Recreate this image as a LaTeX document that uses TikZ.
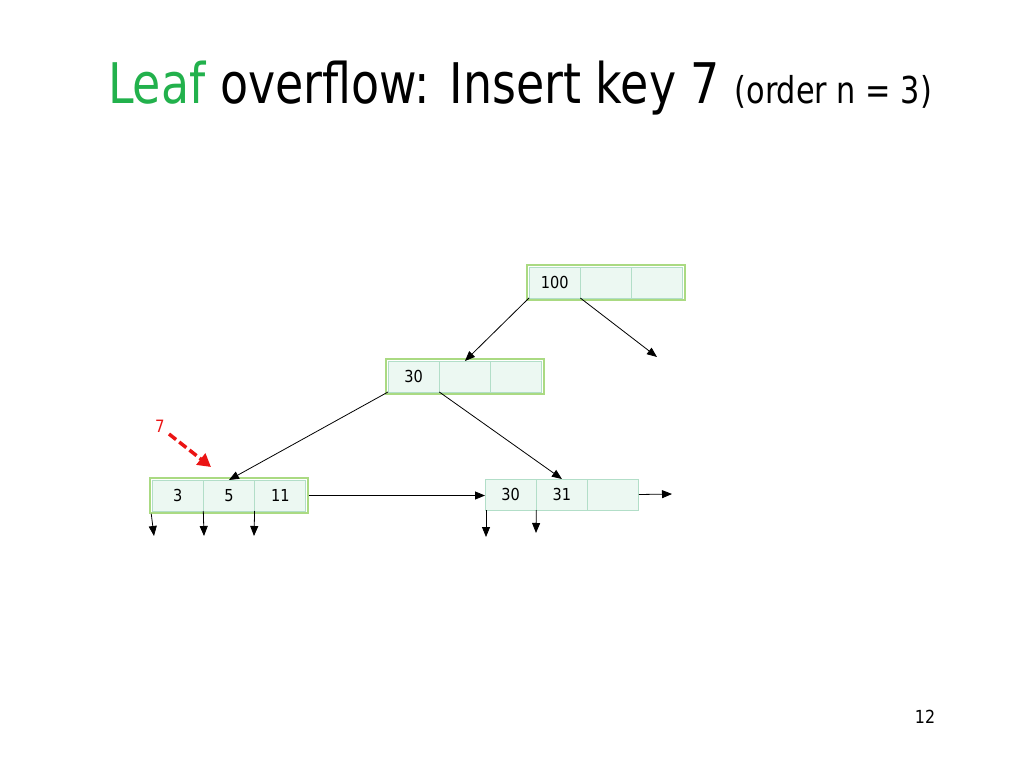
\documentclass[tikz,border=0pt]{standalone}
\usepackage{fontspec}
\setmainfont{DejaVu Sans}
\newfontfamily\titlefont{DejaVu Sans}[FakeStretch=0.82]
\newfontfamily\cellfont{DejaVu Sans}[FakeStretch=0.88]
\usetikzlibrary{arrows.meta,fit}
\definecolor{leafgreen}{RGB}{34,177,76}
\definecolor{boxgreen}{RGB}{170,218,130}
\definecolor{cellline}{RGB}{178,222,200}
\definecolor{cellfill}{RGB}{236,248,242}
\definecolor{keyred}{RGB}{235,20,20}
\tikzset{
  cell/.style={draw=cellline,line width=1pt,fill=cellfill,minimum width=51.3pt,minimum height=31pt,inner sep=0pt,outer sep=0pt,font=\cellfont\fontsize{16.5}{16.5}\selectfont},
  outerbox/.style={draw=boxgreen,line width=1.5pt,inner sep=2pt},
  ptr/.style={-{Triangle[length=10pt,width=8pt]},line width=0.8pt,black},
}
\newcommand{\bnode}[5]{%
  \node[cell,anchor=north west] (#1a) at (#2) {#3};
  \node[cell,anchor=west] (#1b) at (#1a.east) {#4};
  \node[cell,anchor=west] (#1c) at (#1b.east) {#5};
}
\begin{document}
\begin{tikzpicture}[x=1pt,y=-1pt]
\useasboundingbox (0,0) rectangle (1024,768);
% title
\node[anchor=base west,inner sep=0pt,font=\titlefont\fontsize{56}{56}\selectfont] (title) at (108,103)
  {\textcolor{leafgreen}{Leaf} overflow: Insert key 7 {\fontsize{37}{37}\selectfont(order n = 3)}};
% nodes
\bnode{r}{529,267}{100}{}{}
\node[outerbox,fit=(ra)(rc)] (rbox) {};
\bnode{m}{388,361}{30}{}{}
\node[outerbox,fit=(ma)(mc)] (mbox) {};
\bnode{p}{152,480}{3}{5}{11}
\node[outerbox,fit=(pa)(pc)] (pbox) {};
\bnode{q}{485,479}{30}{31}{}
% free ends
\coordinate (rfree) at (657,357);
\coordinate (pd1) at (154,536);
\coordinate (pd2) at (204,536);
\coordinate (pd3) at (254,536);
\coordinate (qd1) at (486,537);
\coordinate (qd2) at (536,533);
\coordinate (qnext) at (672,494);
% tree pointers
\draw[ptr] (ra.south west) -- (mb.north);
\draw[ptr] (rb.south west) -- (rfree);
\draw[ptr] (ma.south west) -- (pb.north);
\draw[ptr] (mb.south west) -- (qb.north);
% leaf pointers
\draw[ptr] (pbox.east) -- (qa.west |- pbox.east);
\draw[ptr] ([xshift=2pt]pbox.south west) -- (pd1);
\draw[ptr] (pb.south west) -- (pd2);
\draw[ptr] (pc.south west) -- (pd3);
\draw[ptr] ([xshift=1pt]qa.south west) -- (qd1);
\draw[ptr] (qb.south west) -- (qd2);
\draw[ptr] (qc.east) -- (qnext);
% key to insert
\node[text=keyred,font=\cellfont\fontsize{17}{17}\selectfont,inner sep=1pt] (key) at (160,426) {7};
\coordinate (keyend) at (211,467);
\draw[keyred,line width=3.5pt,dash pattern=on 9pt off 4pt,-{Triangle[length=13pt,width=14pt]}] (169,434) -- (keyend);
% page number
\node[font=\cellfont\fontsize{18}{18}\selectfont] (pagenum) at (925,717) {12};
\end{tikzpicture}
\end{document}
